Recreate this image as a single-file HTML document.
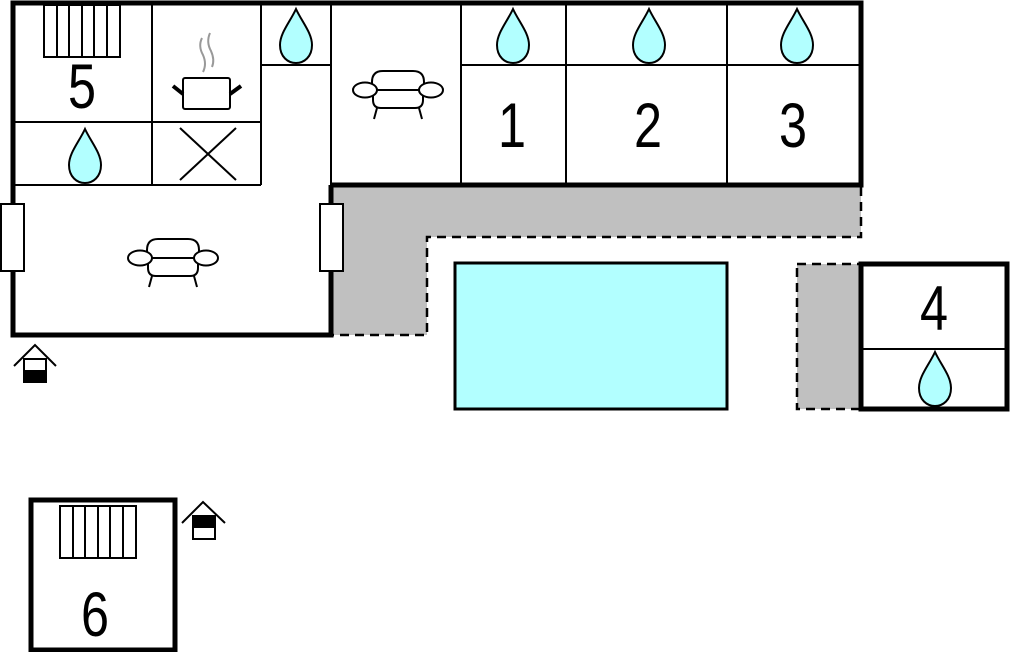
<!DOCTYPE html>
<html><head><style>html,body{margin:0;padding:0;background:#fff;width:1011px;height:652px;overflow:hidden}</style></head>
<body>
<svg width="1011" height="652" viewBox="0 0 1011 652" xmlns="http://www.w3.org/2000/svg" font-family="Liberation Sans, sans-serif">
<defs>
<path id="drop" d="M0,0 C-6,13 -16,24 -16,36 C-16,48 -8,54 0,54 C8,54 16,48 16,36 C16,24 6,13 0,0 Z" fill="#b2ffff" stroke="#000" stroke-width="2"/>
<g id="sofa" fill="#fff" stroke="#000" stroke-width="2">
<path d="M-26,2 L-26,-8 Q-26,-19 -15,-19 L15,-19 Q26,-19 26,-8 L26,2"/>
<path d="M-25,0 L-25,10 Q-25,18 -17,18 L17,18 Q25,18 25,10 L25,0"/>
<line x1="-24" y1="0" x2="24" y2="0"/>
<ellipse cx="-33" cy="0" rx="12" ry="7.5"/>
<ellipse cx="33" cy="0" rx="12" ry="7.5"/>
<line x1="-21" y1="18" x2="-24" y2="29"/>
<line x1="21" y1="18" x2="24" y2="29"/>
</g>
<g id="rad" fill="#fff" stroke="#000" stroke-width="2">
<rect x="0" y="0" width="76" height="52"/>
<line x1="13" y1="0" x2="13" y2="52"/><line x1="25" y1="0" x2="25" y2="52"/><line x1="38" y1="0" x2="38" y2="52"/><line x1="50" y1="0" x2="50" y2="52"/><line x1="63" y1="0" x2="63" y2="52"/>
</g>
</defs>

<path d="M333,187 L861,187 L861,237 L427,237 L427,335 L333,335 Z" fill="#c0c0c0"/>
<path d="M861,187 L861,237 L427,237 L427,335 L333,335" fill="none" stroke="#000" stroke-width="2.5" stroke-dasharray="9,6"/>
<rect x="797" y="264" width="64" height="145" fill="#c0c0c0" stroke="#000" stroke-width="2.5" stroke-dasharray="9,6"/>

<rect x="455" y="263" width="272" height="146" fill="#b2ffff" stroke="#000" stroke-width="3"/>

<g stroke="#000" stroke-width="2" fill="none">
<line x1="152" y1="3" x2="152" y2="185"/>
<line x1="13" y1="122" x2="261" y2="122"/>
<line x1="13" y1="185" x2="261" y2="185"/>
<line x1="261" y1="3" x2="261" y2="185"/>
<line x1="261" y1="65" x2="331" y2="65"/>
<line x1="331" y1="3" x2="331" y2="185"/>
<line x1="461" y1="3" x2="461" y2="185"/>
<line x1="566" y1="3" x2="566" y2="185"/>
<line x1="727" y1="3" x2="727" y2="185"/>
<line x1="461" y1="65" x2="861" y2="65"/>
<line x1="861" y1="349" x2="1007" y2="349"/>
<line x1="180" y1="128" x2="236" y2="180"/>
<line x1="236" y1="128" x2="180" y2="180"/>
</g>
<g stroke="#000" stroke-width="5" fill="none">
<path d="M13,185 L13,3 L861,3 L861,185 L331,185"/>
<path d="M13,185 L13,335 L331,335 L331,185"/>
<rect x="861" y="264" width="146" height="145"/>
<rect x="31" y="500" width="144" height="150"/>
</g>
<rect x="1" y="204" width="23" height="67" fill="#fff" stroke="#000" stroke-width="2"/>
<rect x="320" y="204" width="23" height="67" fill="#fff" stroke="#000" stroke-width="2"/>

<use href="#rad" x="44" y="5"/>
<use href="#rad" x="60" y="506"/>

<g stroke="#000" stroke-width="2" fill="#fff">
<rect x="183" y="78" width="47" height="31" rx="2"/>
<line x1="173" y1="86" x2="183" y2="94" stroke-width="4"/>
<line x1="241" y1="86" x2="230" y2="94" stroke-width="4"/>
</g>
<path d="M202,38 Q198,46 203,55 Q207,64 203,72 M210,33 Q206,42 211,51 Q215,60 212,67" fill="none" stroke="#999" stroke-width="2"/>

<use href="#drop" x="296" y="9"/>
<use href="#drop" x="85" y="129"/>
<use href="#drop" x="513" y="9"/>
<use href="#drop" x="649" y="9"/>
<use href="#drop" x="797" y="9"/>
<use href="#drop" x="935" y="352"/>

<use href="#sofa" x="173" y="258"/>
<use href="#sofa" x="398" y="90"/>

<g stroke="#000" stroke-width="2" fill="#fff">
<path d="M14,366 L35,345 L56,366" fill="none"/>
<rect x="24" y="359" width="22" height="23"/>
<rect x="24" y="371" width="22" height="11" fill="#000"/>
<path d="M182,523 L203,502 L225,523" fill="none"/>
<rect x="193" y="516" width="22" height="23"/>
<rect x="193" y="516" width="22" height="11" fill="#000"/>
</g>

<g font-size="63" text-anchor="middle" fill="#000">
<text transform="translate(82,108) scale(0.8,1)">5</text>
<text transform="translate(512,147) scale(0.8,1)">1</text>
<text transform="translate(648,147) scale(0.8,1)">2</text>
<text transform="translate(793,147) scale(0.8,1)">3</text>
<text transform="translate(934,330) scale(0.8,1)">4</text>
<text transform="translate(95,636) scale(0.8,1)">6</text>
</g>
</svg>
</body></html>
